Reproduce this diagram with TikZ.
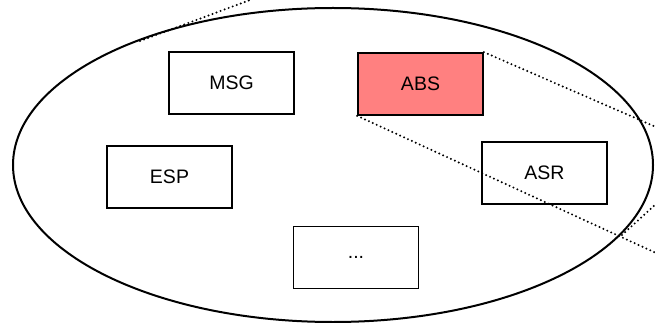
\documentclass[tikz,border=0pt]{standalone}
\usepackage{fontspec}
\setmainfont{Liberation Sans}
\definecolor{abspink}{HTML}{FF8080}
\begin{document}
\begin{tikzpicture}[x=1pt,y=-1pt,
  modbox/.style={draw=black, line width=1.7pt, minimum width=125pt, minimum height=62pt, inner sep=0pt, font=\fontsize{19.5}{23}\selectfont},
  dotline/.style={line width=2.2pt, line cap=round, dash pattern=on 0pt off 4.3pt}]
\useasboundingbox (0,0) rectangle (655,323);
\node[modbox] (msg) at (231.5,83) {MSG};
\node[modbox, fill=abspink] (abs) at (420.5,84) {ABS};
\node[modbox] (esp) at (169.5,177) {ESP};
\node[modbox] (asr) at (544.5,173) {ASR};
\node[modbox] (more) at (356,257.5) {...};
\draw[line width=2pt] (333,165) ellipse [x radius=320, y radius=157];
\coordinate (tl1) at (140,41);
\coordinate (tl2) at (250,0);
\coordinate (r1) at (656,127);
\coordinate (r2) at (656,253);
\coordinate (r3a) at (622,235);
\coordinate (r3b) at (656,204);
\draw[dotline] (tl1) -- (tl2);
\draw[dotline] (abs.north east) -- (r1);
\draw[dotline] (abs.south west) -- (r2);
\draw[dotline] (r3a) -- (r3b);
\end{tikzpicture}
\end{document}
